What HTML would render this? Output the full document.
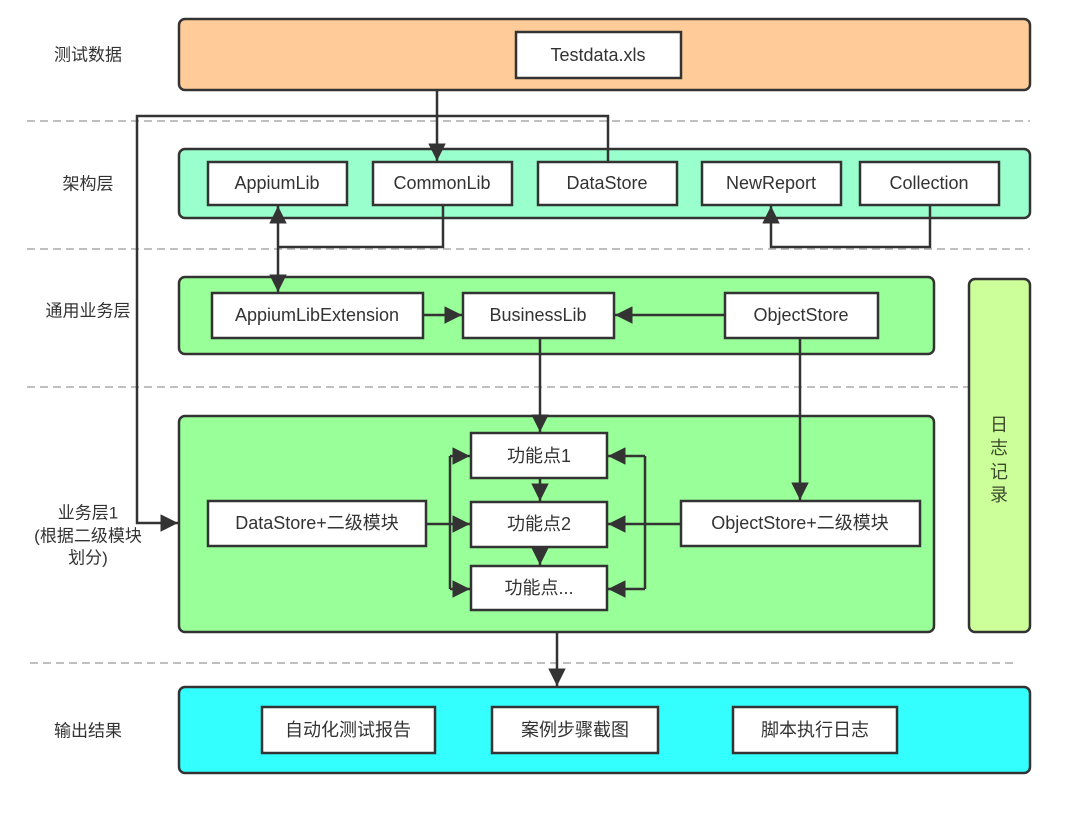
<!DOCTYPE html>
<html><head><meta charset="utf-8"><style>
html,body{margin:0;padding:0;background:#fff}
svg text{font-family:"Liberation Sans","Noto Sans CJK SC",sans-serif;fill:#333}
</style></head><body>
<svg width="1080" height="809" viewBox="0 0 1080 809" xmlns="http://www.w3.org/2000/svg">
<defs>
<marker id="a" viewBox="0 0 10 10" refX="10" refY="5" markerWidth="7" markerHeight="7" orient="auto-start-reverse" markerUnits="strokeWidth"><path d="M0,0 L10,5 L0,10 z" fill="#333"/></marker>
</defs>
<g stroke="#aaa" stroke-width="1.5" stroke-dasharray="8,5">
<line x1="27" y1="121" x2="1030" y2="121"/>
<line x1="27" y1="249" x2="1030" y2="249"/>
<line x1="27" y1="387" x2="968" y2="387"/>
<line x1="30" y1="663" x2="1017" y2="663"/>
</g>
<g stroke="#333" stroke-width="2.5">
<rect x="179" y="19" width="851" height="71" rx="6" fill="#ffcc99"/>
<rect x="179" y="149" width="851" height="69" rx="6" fill="#99ffcc"/>
<rect x="179" y="277" width="755" height="77" rx="6" fill="#99ff99"/>
<rect x="179" y="416" width="755" height="216" rx="6" fill="#99ff99"/>
<rect x="969" y="279" width="61" height="353" rx="6" fill="#ccff99"/>
<rect x="179" y="687" width="851" height="86" rx="6" fill="#33ffff"/>
</g>
<g stroke="#333" stroke-width="2.5" fill="#fff">
<rect x="516" y="32" width="165" height="46"/>
<rect x="208" y="162" width="139" height="43"/>
<rect x="373" y="162" width="139" height="43"/>
<rect x="538" y="162" width="139" height="43"/>
<rect x="702" y="162" width="139" height="43"/>
<rect x="860" y="162" width="139" height="43"/>
<rect x="212" y="293" width="211" height="45"/>
<rect x="463" y="293" width="151" height="45"/>
<rect x="725" y="293" width="153" height="45"/>
<rect x="471" y="433" width="136" height="45"/>
<rect x="471" y="502" width="136" height="45"/>
<rect x="471" y="566" width="136" height="44"/>
<rect x="208" y="501" width="218" height="45"/>
<rect x="681" y="501" width="239" height="45"/>
<rect x="262" y="707" width="173" height="46"/>
<rect x="492" y="707" width="166" height="46"/>
<rect x="733" y="707" width="164" height="46"/>
</g>
<g stroke="#333" stroke-width="2.5" fill="none">
<line x1="437" y1="90" x2="437" y2="161" marker-end="url(#a)"/>
<polyline points="608,162 608,116 137,116 137,523 178,523" marker-end="url(#a)"/>
<line x1="278" y1="206" x2="278" y2="292" marker-start="url(#a)" marker-end="url(#a)"/>
<polyline points="443,205 443,247 278,247"/>
<polyline points="930,205 930,247 771,247 771,206" marker-end="url(#a)"/>
<line x1="423" y1="315" x2="462" y2="315" marker-end="url(#a)"/>
<line x1="725" y1="315" x2="615" y2="315" marker-end="url(#a)"/>
<line x1="540" y1="338" x2="540" y2="432" marker-end="url(#a)"/>
<line x1="540" y1="478" x2="540" y2="501" marker-end="url(#a)"/>
<line x1="540" y1="547" x2="540" y2="565" marker-end="url(#a)"/>
<line x1="800" y1="338" x2="800" y2="500" marker-end="url(#a)"/>
<line x1="450" y1="456" x2="450" y2="589"/>
<line x1="450" y1="456" x2="470" y2="456" marker-end="url(#a)"/>
<line x1="426" y1="524" x2="470" y2="524" marker-end="url(#a)"/>
<line x1="450" y1="589" x2="470" y2="589" marker-end="url(#a)"/>
<line x1="645" y1="456" x2="645" y2="589"/>
<line x1="645" y1="456" x2="608" y2="456" marker-end="url(#a)"/>
<line x1="681" y1="524" x2="608" y2="524" marker-end="url(#a)"/>
<line x1="645" y1="589" x2="608" y2="589" marker-end="url(#a)"/>
<line x1="557" y1="632" x2="557" y2="686" marker-end="url(#a)"/>
</g>
<g font-size="18" text-anchor="middle" dominant-baseline="central">
<text x="598" y="55">Testdata.xls</text>
<text x="277" y="183">AppiumLib</text>
<text x="442" y="183">CommonLib</text>
<text x="607" y="183">DataStore</text>
<text x="771" y="183">NewReport</text>
<text x="929" y="183">Collection</text>
<text x="317" y="315">AppiumLibExtension</text>
<text x="538" y="315">BusinessLib</text>
<text x="801" y="315">ObjectStore</text>
<text x="539" y="456">功能点1</text>
<text x="539" y="524">功能点2</text>
<text x="539" y="588">功能点...</text>
<text x="317" y="523">DataStore+二级模块</text>
<text x="800" y="523">ObjectStore+二级模块</text>
<text x="348" y="730">自动化测试报告</text>
<text x="575" y="730">案例步骤截图</text>
<text x="815" y="730">脚本执行日志</text>
</g>
<g font-size="17" text-anchor="middle" dominant-baseline="central">
<text x="88" y="55">测试数据</text>
<text x="88" y="184">架构层</text>
<text x="88" y="311">通用业务层</text>
<text x="88" y="513">业务层1</text>
<text x="88" y="536">(根据二级模块</text>
<text x="88" y="558">划分)</text>
<text x="88" y="731">输出结果</text>
</g>
<g font-size="18" text-anchor="middle" dominant-baseline="central">
<text x="999" y="425" style="fill:#3a4a2a">日</text>
<text x="999" y="448" style="fill:#3a4a2a">志</text>
<text x="999" y="472" style="fill:#3a4a2a">记</text>
<text x="999" y="495" style="fill:#3a4a2a">录</text>
</g>
</svg>
</body></html>
